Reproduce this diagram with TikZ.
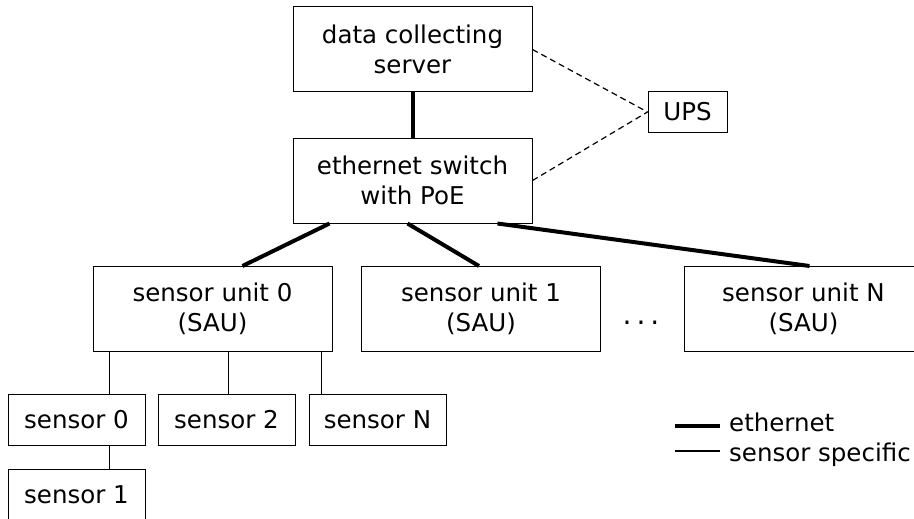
\documentclass[tikz,border=0pt]{standalone}
\usepackage{fontspec}
\setmainfont{DejaVu Sans}
\tikzstyle{box}=[draw,align=center,minimum width=239pt,minimum height=85pt,inner sep=0pt,line width=1pt,font=\fontsize{24.5}{30}\selectfont]
\tikzstyle{sbox}=[box,minimum width=137pt,minimum height=51pt]
\tikzstyle{upsbox}=[box,minimum width=79pt,minimum height=40pt]
\tikzstyle{eth}=[line width=4pt]
\tikzstyle{spec}=[line width=1.3pt]
\tikzstyle{pwr}=[line width=1.2pt,dash pattern=on 6pt off 4pt]
\tikzstyle{legend}=[anchor=base west,inner sep=0pt,font=\fontsize{24.5}{30}\selectfont]

\begin{document}
\begin{tikzpicture}[x=1pt,y=-1pt]
    \useasboundingbox (0,0) rectangle (914,519);
    \node[box] (srv) at (412.5,49.5) {data collecting\\server};
    \node[box] (sw) at (412.5,180.5) {ethernet switch\\with PoE};
    \node[upsbox] (ups) at (687.5,112) {UPS};
    \node[box] (u0) at (212.5,309) {sensor unit 0\\(SAU)};
    \node[box] (u1) at (481,309) {sensor unit 1\\(SAU)};
    \node[box] (uN) at (803.5,309) {sensor unit N\\(SAU)};
    \node[inner sep=0pt,font=\fontsize{28}{30}\selectfont] (dots) at (641,323) {.\kern5pt.\kern5pt.};
    \node[sbox] (s0) at (76.5,419.5) {sensor 0};
    \node[sbox] (s2) at (226.5,419.5) {sensor 2};
    \node[sbox] (sN) at (377.5,419.5) {sensor N};
    \node[sbox] (s1) at (76.5,494.5) {sensor 1};

    \draw[eth] (srv) -- (sw);
    \foreach \u/\a/\b in {u0/37/150,u1/115/118,uN/205/126}
    \draw[eth] ([xshift=\a pt]sw.south west) -- ([xshift=\b pt]\u.north west);
    \foreach \s/\a in {s0/17,s2/136,sN/229}
    \draw[spec] ([xshift=\a pt]u0.south west) -- ([xshift=\a pt]u0.south west |- \s.north);
    \draw[spec] ([xshift=102pt]s0.south west) -- ([xshift=102pt]s1.north west);
    \draw[pwr] (srv.east) -- (ups.west);
    \draw[pwr] (sw.east) -- (ups.west);

    % legend
    \node[legend] (leth) at (729,431) {ethernet};
    \node[legend] (lspec) at (729,461) {sensor specific};
    \coordinate (e0) at (675,426);
    \coordinate (e1) at (675,451);
    \draw[eth] (e0) -- ([xshift=-9pt]e0 -| leth.west);
    \draw[spec] (e1) -- ([xshift=-9pt]e1 -| lspec.west);
\end{tikzpicture}
\end{document}
